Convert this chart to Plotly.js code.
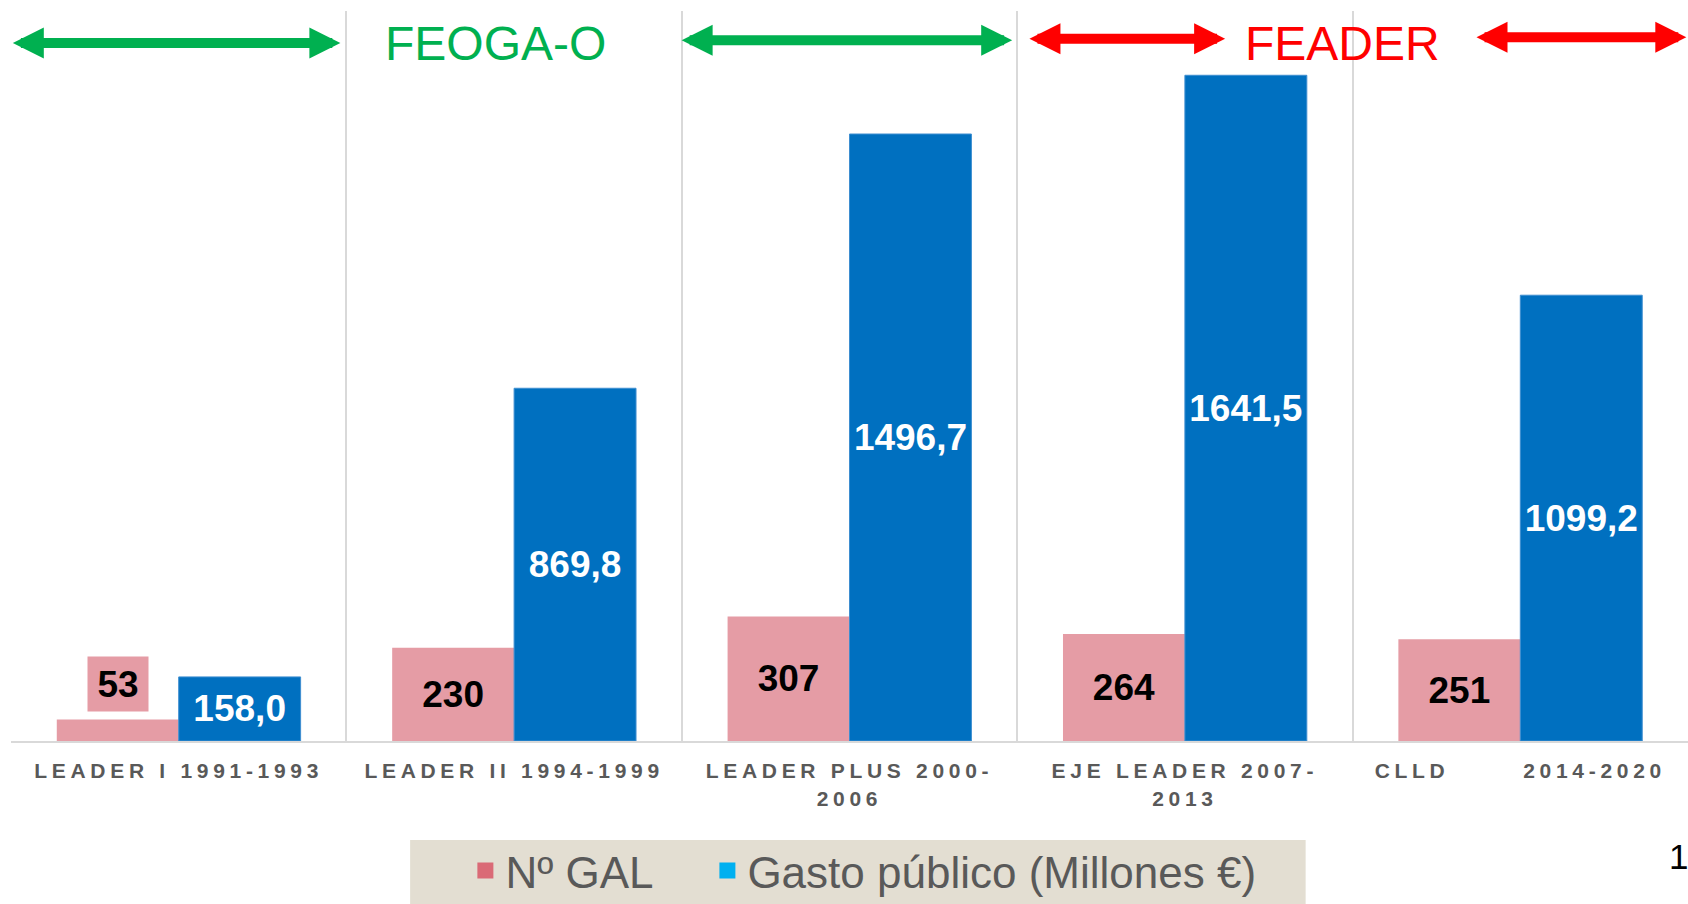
<!DOCTYPE html>
<html>
<head>
<meta charset="utf-8">
<script src="https://cdn.plot.ly/plotly-3.0.1.min.js"></script>
<style>
  html, body { margin: 0; padding: 0; background: #ffffff; }
  #chart { width: 1688px; height: 904px; }
  .xtick text { letter-spacing: 4.7px; }
</style>
</head>
<body>
<div id="chart"></div>
<script>
const NB = '\u00a0';
const categories = [
  'LEADER I 1991-1993',
  'LEADER II 1994-1999',
  'LEADER PLUS 2000-<br>2006',
  'EJE LEADER 2007-<br>2013',
  'CLLD' + NB.repeat(7) + '2014-2020'
];
const galValues = [53, 230, 307, 264, 251];
const gastoValues = [158.0, 869.8, 1496.7, 1641.5, 1099.2];
const seriesNames = ['Nº GAL', 'Gasto público (Millones €)'];
const periodLabels = ['FEOGA-O', 'FEADER'];

const pinkBar = '#E59CA5';
const blueBar = '#0070C0';
const pinkLegend = '#DA6A76';
const blueLegend = '#00B0F0';
const green = '#00B050';
const red = '#FF0000';
const FONT = 'Arial, "Liberation Sans", sans-serif';

const smallLimit = 100; // values whose label sits above the bar
const galText = galValues.map(v => v < smallLimit ? '' : String(v));

const traces = [
  {
    type: 'bar', name: seriesNames[0], x: categories, y: galValues,
    marker: { color: pinkBar }, showlegend: false,
    text: galText, textposition: 'inside', insidetextanchor: 'middle',
    textangle: 0, constraintext: 'none',
    insidetextfont: { family: FONT, size: 37, color: '#000000', weight: 'bold' },
    hoverinfo: 'skip'
  },
  {
    type: 'bar', name: seriesNames[1], x: categories, y: gastoValues,
    marker: { color: blueBar, line: { color: '#3E8ED0', width: 1 } }, showlegend: false,
    texttemplate: '%{y:.1f}', textposition: 'inside', insidetextanchor: 'middle',
    textangle: 0, constraintext: 'none',
    insidetextfont: { family: FONT, size: 37, color: '#ffffff', weight: 'bold' },
    hoverinfo: 'skip'
  },
  {
    type: 'scatter', mode: 'markers', name: seriesNames[0] + NB.repeat(4), x: [null], y: [null],
    marker: { symbol: 'square', size: 16, color: pinkLegend }, hoverinfo: 'skip'
  },
  {
    type: 'scatter', mode: 'markers', name: seriesNames[1], x: [null], y: [null],
    marker: { symbol: 'square', size: 16, color: blueLegend }, hoverinfo: 'skip'
  }
];

const annotations = [];
galValues.forEach((v, i) => {
  if (v < smallLimit) {
    annotations.push({
      x: categories[i], y: v, xref: 'x', yref: 'y', xshift: -61, yshift: 8,
      yanchor: 'bottom', xanchor: 'center', showarrow: false,
      text: String(v), bgcolor: pinkBar, width: 58, height: 52,
      font: { family: FONT, size: 37, color: '#000000', weight: 'bold' }
    });
  }
});

function arrow(x0, x1, y, color) {
  return {
    xref: 'x', yref: 'paper', axref: 'x', ayref: 'pixel',
    x: x1, ax: x0, y: y, ay: 0, text: '', showarrow: true,
    arrowhead: 2, startarrowhead: 2, arrowside: 'end+start',
    arrowsize: 0.62, startarrowsize: 0.62, arrowwidth: 10,
    arrowcolor: color, standoff: 0, startstandoff: 0
  };
}
annotations.push(arrow(-0.499, 0.482, 0.956, green));
annotations.push(arrow(1.495, 2.485, 0.960, green));
annotations.push(arrow(2.532, 3.120, 0.962, red));
annotations.push(arrow(3.865, 4.495, 0.964, red));
annotations.push({
  xref: 'x', yref: 'paper', x: 0.944, y: 0.956, showarrow: false,
  text: periodLabels[0], xanchor: 'center', yanchor: 'middle',
  font: { family: FONT, size: 48, color: green }
});
annotations.push({
  xref: 'x', yref: 'paper', x: 3.471, y: 0.956, showarrow: false,
  text: periodLabels[1], xanchor: 'center', yanchor: 'middle',
  font: { family: FONT, size: 48, color: red }
});
annotations.push({
  xref: 'paper', yref: 'paper', x: 1.0, y: -0.129, xshift: 2, showarrow: false,
  text: '1', xanchor: 'right', yanchor: 'top',
  font: { family: FONT, size: 35, color: '#000000' }
});

const layout = {
  width: 1688, height: 904,
  margin: { l: 11, r: 0, t: 11, b: 163 },
  paper_bgcolor: '#ffffff', plot_bgcolor: '#ffffff',
  separators: ',.',
  barmode: 'group', bargap: 0.273, bargroupgap: 0,
  font: { family: FONT },
  xaxis: {
    type: 'category', range: [-0.5, 4.5], tickson: 'boundaries', ticks: '', automargin: false,
    showgrid: true, gridcolor: '#D9D9D9', gridwidth: 2,
    showline: true, linecolor: '#D9D9D9', linewidth: 2,
    tickangle: 0, ticklabelstandoff: 10,
    tickfont: { family: FONT, size: 21, color: '#595959', weight: 'bold' },
    fixedrange: true
  },
  yaxis: {
    range: [0, 1800], showgrid: false, zeroline: false, automargin: false,
    showticklabels: false, ticks: '', showline: false, fixedrange: true
  },
  showlegend: true,
  legend: {
    orientation: 'h', xref: 'container', yref: 'container',
    x: 0.2757, xanchor: 'left', y: 0.076, yanchor: 'top',
    bgcolor: 'rgba(0,0,0,0)', borderwidth: 0,
    font: { family: FONT, size: 44, color: '#595959' }
  },
  shapes: [{
    type: 'rect', xref: 'paper', yref: 'paper', layer: 'below',
    x0: 0.238, x1: 0.772, y0: -0.1356, y1: -0.26,
    fillcolor: '#E3DED2', line: { width: 0 }
  }],
  annotations: annotations
};

Plotly.newPlot('chart', traces, layout, { displayModeBar: false, staticPlot: true });
</script>
</body>
</html>
